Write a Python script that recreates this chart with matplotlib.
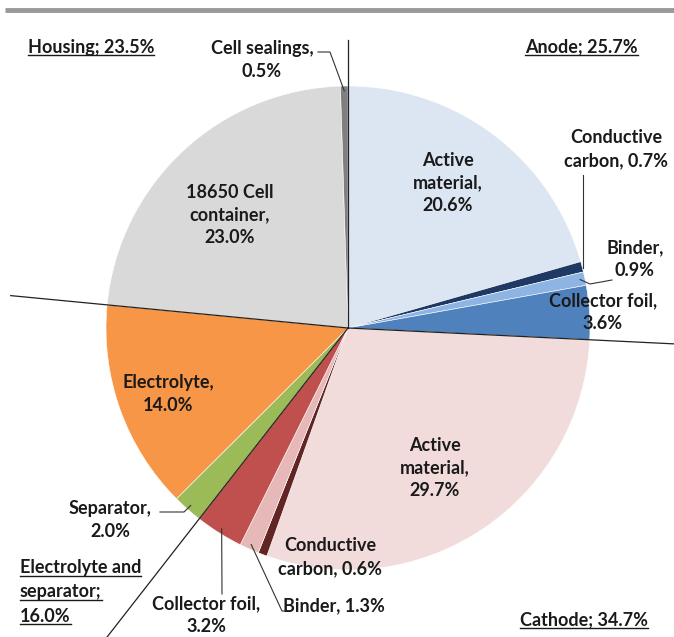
import numpy as np
import matplotlib
matplotlib.use("Agg")
import matplotlib.pyplot as plt

# slice values (%), clockwise from 12 o'clock
parts = ["Anode active material", "Anode conductive carbon", "Anode binder", "Anode collector foil",
         "Cathode active material", "Cathode conductive carbon", "Cathode binder", "Cathode collector foil",
         "Separator", "Electrolyte", "18650 Cell container", "Cell sealings"]
values = [20.6, 0.7, 0.9, 3.6, 29.7, 0.6, 1.3, 3.2, 2.0, 14.0, 23.0, 0.5]
colors = ["#DCE6F2", "#1F3864", "#8DB4E2", "#4F81BD",
          "#F2DCDB", "#632523", "#E6B9B8", "#C0504D",
          "#9BBB59", "#F79646", "#D9D9D9", "#7F7F7F"]
# group boundaries (index after which a group ends)
group_ends = [3, 7, 9, 11]
group_line_len = [3.0, 3.0, 1.40, 1.19]

W, H = 674, 637
CX, CY, R = 348, 328, 242

plt.rcParams['font.family'] = ['Lato', 'DejaVu Sans']
fig = plt.figure(figsize=(W / 100, H / 100), dpi=100)
ax = fig.add_axes([0, 0, 1, 1])


def P(x, y):
    # pixel position (from top-left) -> data coords
    return (x - CX) / R, (CY - y) / R


ax.pie(values, colors=colors, startangle=90, counterclock=False, radius=1.0,
       wedgeprops=dict(linewidth=0.4, edgecolor="white"))
ax.set_aspect("auto")
ax.set_xlim(-CX / R, (W - CX) / R)
ax.set_ylim((CY - H) / R, CY / R)
ax.axis('off')

# angles of slice boundaries / mids (degrees, matplotlib convention)
cum = np.cumsum([0] + values) / sum(values)
bounds = 90 - cum * 360
mids = (bounds[:-1] + bounds[1:]) / 2


def edge_pt(i, r=1.0):
    a = np.deg2rad(mids[i])
    return r * np.cos(a), r * np.sin(a)


# group divider lines from the centre
for idx, ln in zip(group_ends, group_line_len):
    a = np.deg2rad(bounds[idx + 1])
    ax.plot([0, ln * np.cos(a)], [0, ln * np.sin(a)], color="#222222", lw=0.9, zorder=5)

# grey bar on top
ax.plot([P(5, 10)[0], P(674, 10)[0]], [P(5, 10)[1]] * 2, color="#999999", lw=3.5,
        solid_capstyle="butt", zorder=6)

tk = dict(fontsize=13, fontweight="bold", color="#1a1a1a", linespacing=1.4, zorder=7)

# slice labels: (text, pixel x, pixel y)
labels = [
    ("Active\nmaterial,\n20.6%", 448, 183),
    ("Conductive\ncarbon, 0.7%", 616, 149),
    ("Binder,\n0.9%", 635, 259),
    ("Collector foil,\n3.6%", 603, 312),
    ("Active\nmaterial,\n29.7%", 435, 468),
    ("Conductive\ncarbon, 0.6%", 330, 557),
    ("Binder, 1.3%", 334, 606),
    ("Collector foil,\n3.2%", 206, 615),
    ("Separator,\n2.0%", 110, 520),
    ("Electrolyte,\n14.0%", 168, 394),
    ("18650 Cell\ncontainer,\n23.0%", 230, 215),
    ("Cell sealings,\n0.5%", 262, 60),
]
for txt, px, py in labels:
    ax.text(*P(px, py), txt, ha="center", va="center", **tk)

# leader lines (slice index, pixel points near the label)
leaders = [
    (1, [(583, 175), (583, 268)], False),
    (2, [(612, 280), (590, 284)], True),
    (6, [(290, 611), (282, 611)], True),
    (7, [(222, 594)], True),
    (8, [(160, 512), (184, 512)], True),
    (11, [(318, 52), (330, 52)], True),
]
for i, pts, to_slice in leaders:
    xs = [P(x, y)[0] for x, y in pts]
    ys = [P(x, y)[1] for x, y in pts]
    if to_slice:
        ex, ey = edge_pt(i, 0.98)
        xs.append(ex)
        ys.append(ey)
    ax.plot(xs, ys, color="#333333", lw=0.8, zorder=6)

# group headers, underlined
groups = [
    ("Housing; 23.5%", 28, 47),
    ("Anode; 25.7%", 525, 47),
    ("Electrolyte and\nseparator;\n16.0%", 20, 592),
    ("Cathode; 34.7%", 520, 620),
]
fig.canvas.draw()
renderer = fig.canvas.get_renderer()
inv = ax.transData.inverted()
for txt, px, py in groups:
    lines = txt.split("\n")
    n = len(lines)
    for k, line in enumerate(lines):
        ly = py + (k - (n - 1) / 2) * 24
        t = ax.text(*P(px, ly), line, ha="left", va="center", **tk)
        bb = t.get_window_extent(renderer)
        x0, y0 = inv.transform((bb.x0, bb.y0 + 1))
        x1, _ = inv.transform((bb.x1, bb.y0 + 1))
        ax.plot([x0, x1], [y0, y0], color="#1a1a1a", lw=1.0, zorder=7)

fig.savefig("out.png", dpi=100, facecolor="white")
